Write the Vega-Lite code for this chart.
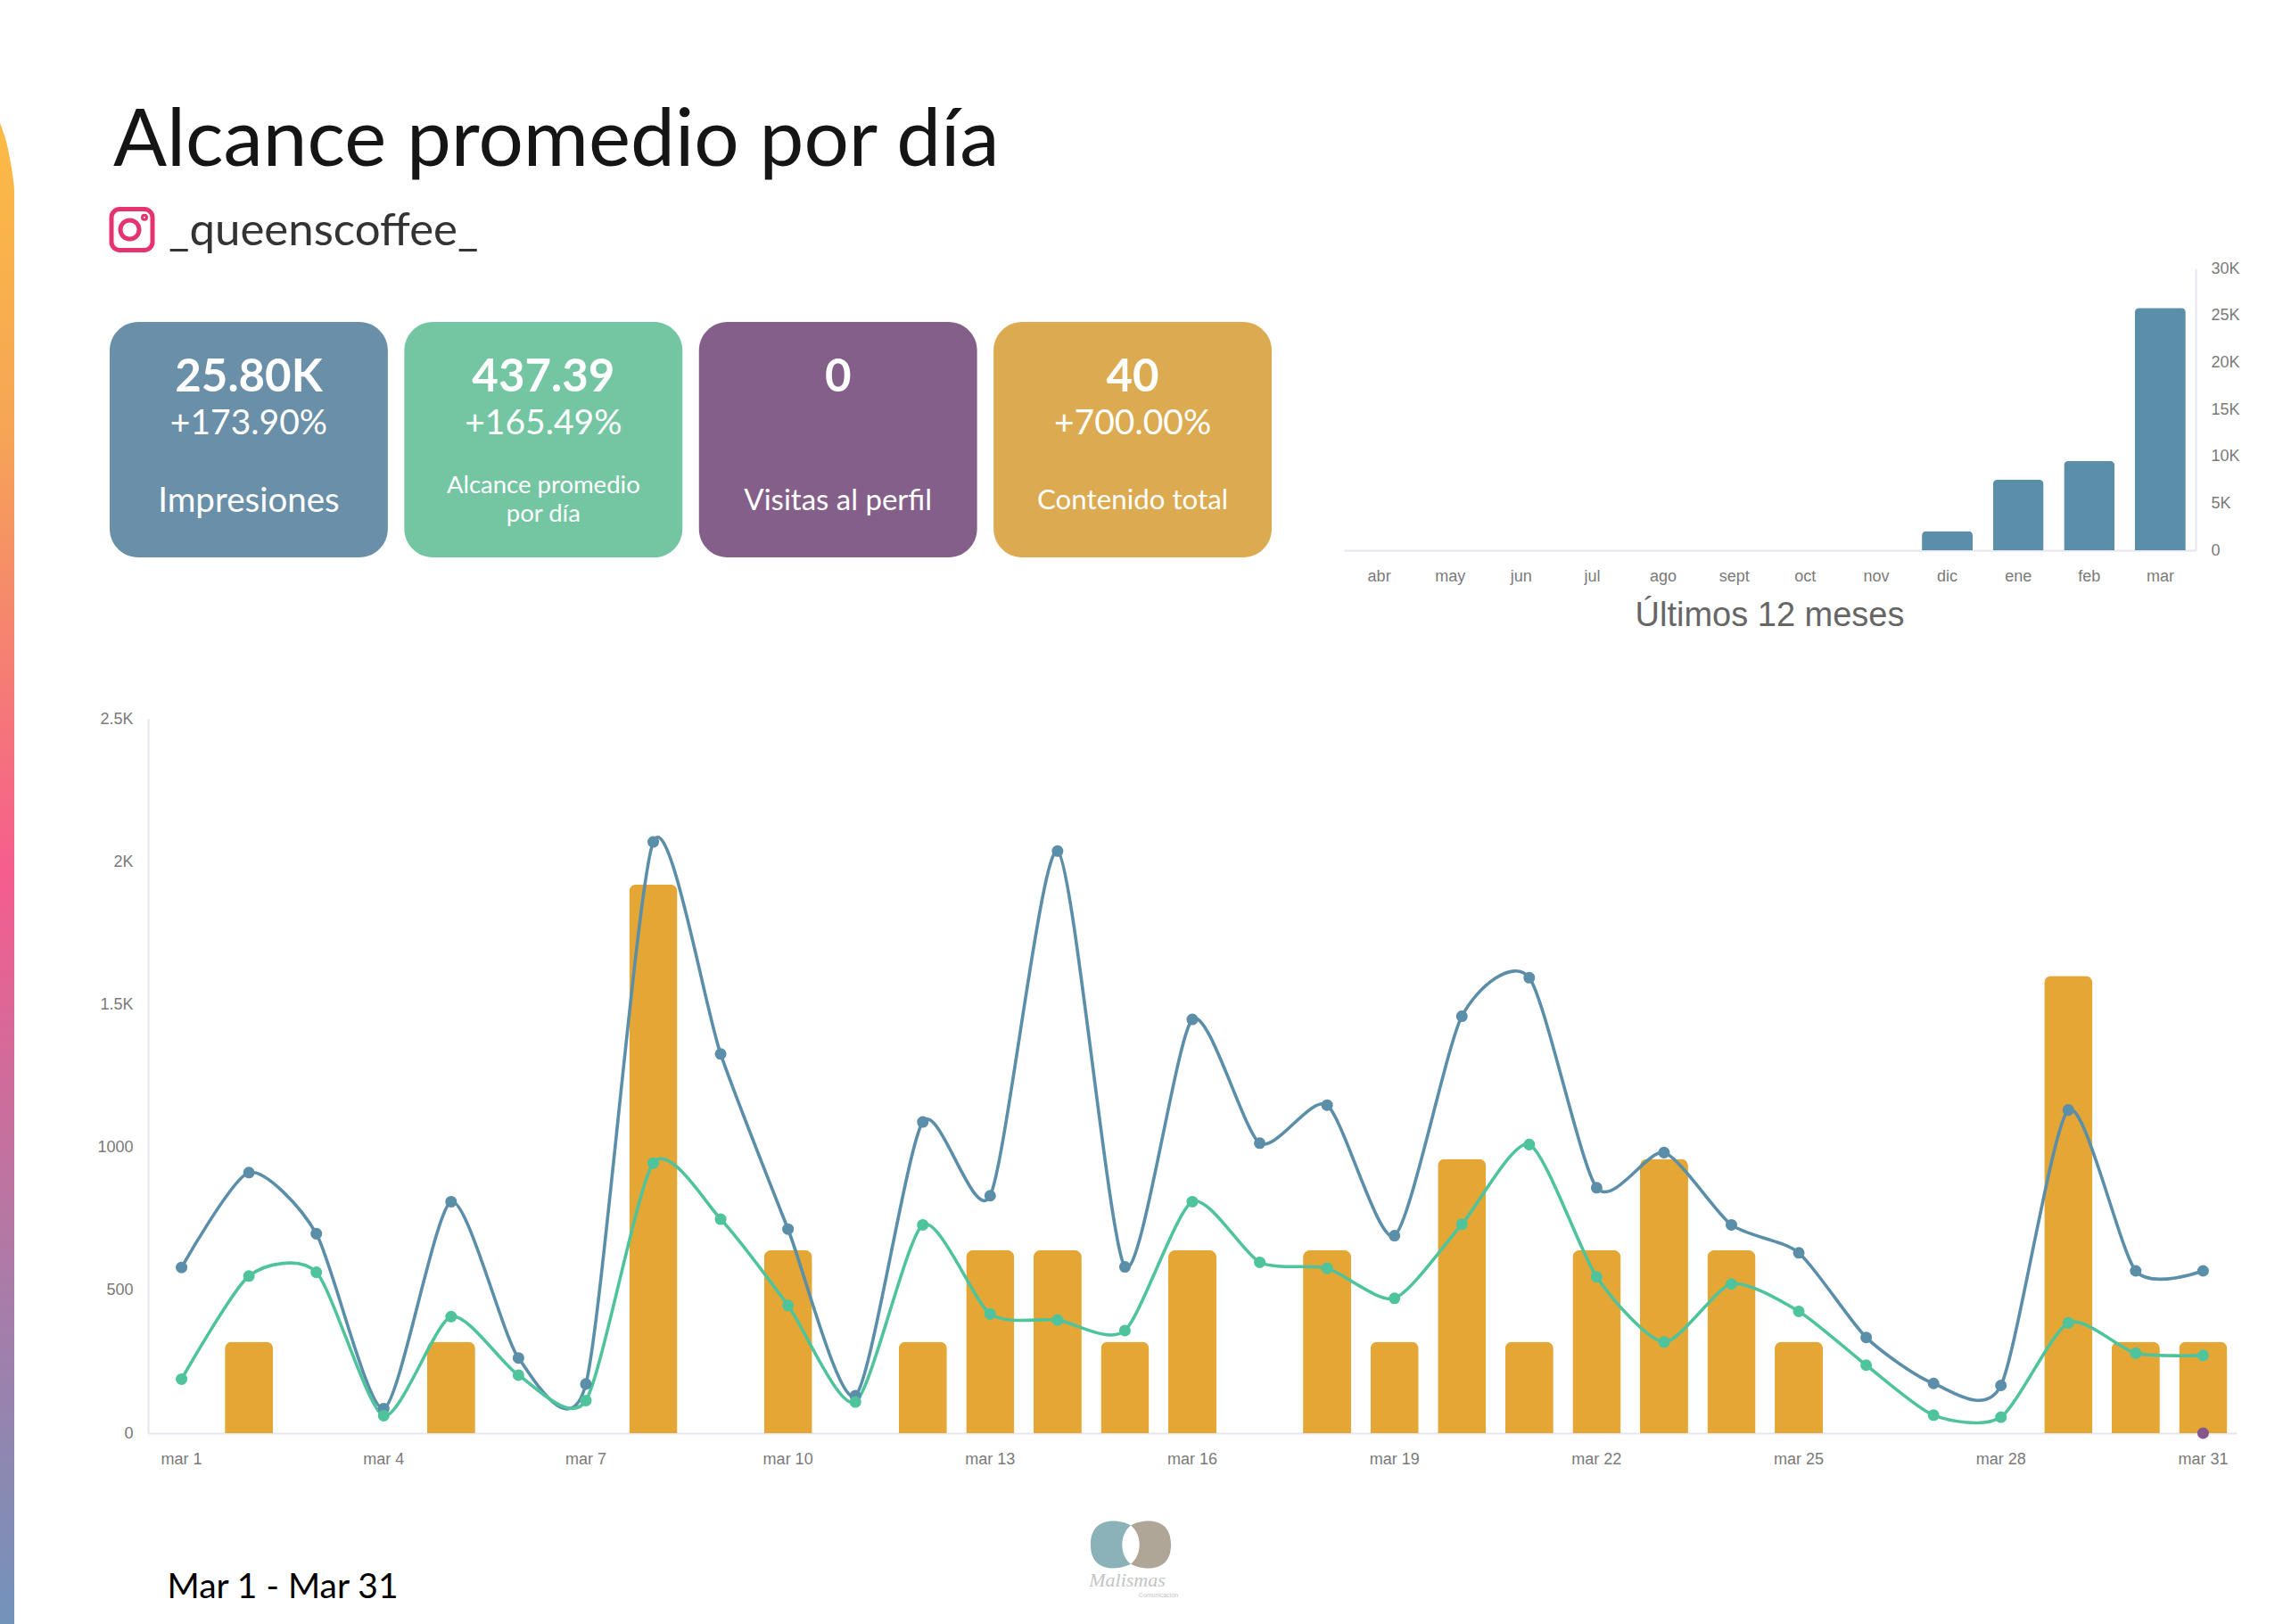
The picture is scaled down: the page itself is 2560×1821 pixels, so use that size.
{
"$schema":"https://vega.github.io/schema/vega-lite/v6.json",
"padding":0,
"background":"white",
"config":{"view":{"stroke":null}},
"bounds":"flush",
"spacing":189,
"vconcat":[
{
 "width":2339,"height":617,
 "title":{"text":"Alcance promedio por día","anchor":"start","frame":"group","orient":"top","offset":-275,"dx":4,"baseline":"alphabetic","font":"Lato","fontSize":89,"fontWeight":"normal","color":"#151515"},
 "resolve":{"scale":{"x":"independent","y":"independent"}},
 "layer":[
  {
   "data":{"values":[{"pos":138,"w":0},{"pos":155,"w":6},{"pos":175,"w":10.5},{"pos":195,"w":14},{"pos":215,"w":16},{"pos":1821,"w":16}]},
   "mark":{"type":"area","orient":"horizontal","interpolate":"monotone","color":{"gradient":"linear","x1":0,"y1":0,"x2":0,"y2":1,"stops":[{"offset":0,"color":"#fbbb45"},{"offset":0.2,"color":"#f6a655"},{"offset":0.5,"color":"#f55d8e"},{"offset":0.78,"color":"#a97ca8"},{"offset":1,"color":"#7393bb"}]}},
   "encoding":{
    "x":{"field":"w","type":"quantitative","scale":{"domain":[0,16],"range":[-123,-107],"nice":false},"axis":null},
    "y":{"field":"pos","type":"quantitative","sort":null,"scale":{"domain":[0,1821],"range":[0,1821],"nice":false},"axis":null}
   }
  },
  {
   "data":{"values":[{"cuenta":"_queenscoffee_"}]},
   "layer":[
    {"mark":{"type":"point","shape":"M-0.55,-0.92 H0.55 A0.37,0.37 0 0 1 0.92,-0.55 V0.55 A0.37,0.37 0 0 1 0.55,0.92 H-0.55 A0.37,0.37 0 0 1 -0.92,0.55 V-0.55 A0.37,0.37 0 0 1 -0.55,-0.92 Z M-0.52,0 A0.42,0.42 0 1 1 0.32,0 A0.42,0.42 0 1 1 -0.52,0 Z M0.5,-0.55 A0.06,0.06 0 1 1 0.62,-0.55 A0.06,0.06 0 1 1 0.5,-0.55 Z","size":2500,"filled":false,"stroke":"#e5336e","strokeWidth":5,"opacity":1,"xOffset":-1144.5,"yOffset":-51}},
    {"mark":{"type":"text","align":"left","baseline":"middle","font":"Lato","fontSize":51,"color":"#333333","dx":-1103.5,"dy":-49},"encoding":{"text":{"field":"cuenta"}}}
   ]
  },
  {
   "data":{"values":[
     {"tarjeta":"Impresiones","valor":"25.80K","cambio":"+173.90%","color":"#6a8fa8"},
     {"tarjeta":"Alcance promedio por día","valor":"437.39","cambio":"+165.49%","color":"#74c6a2"},
     {"tarjeta":"Visitas al perfil","valor":"0","cambio":"","color":"#845f89"},
     {"tarjeta":"Contenido total","valor":"40","cambio":"+700.00%","color":"#dcaa50"}
   ]},
   "encoding":{
    "x":{"field":"tarjeta","type":"nominal","sort":null,"axis":null,"scale":{"range":[0,1303],"paddingInner":0.056,"paddingOuter":0}},
    "y":{"datum":0.5,"type":"quantitative","scale":{"domain":[0,1],"range":[625,361],"nice":false},"axis":null}
   },
   "layer":[
    {"mark":{"type":"bar","cornerRadius":32},"encoding":{"y":{"datum":0,"type":"quantitative"},"y2":{"datum":1},"color":{"field":"color","type":"nominal","scale":null}}},
    {"mark":{"type":"text","color":"white","font":"Lato","fontWeight":"bold","fontSize":51,"baseline":"middle","dy":-69},"encoding":{"text":{"field":"valor"}}},
    {"mark":{"type":"text","color":"white","font":"Lato","fontSize":39,"baseline":"middle","dy":-18},"encoding":{"text":{"field":"cambio"}}},
    {"transform":[{"filter":"datum.tarjeta==='Impresiones'"}],"mark":{"type":"text","color":"white","font":"Lato","fontSize":38.5,"baseline":"middle","dy":69},"encoding":{"text":{"field":"tarjeta"}}},
    {"transform":[{"filter":"datum.tarjeta==='Visitas al perfil'"}],"mark":{"type":"text","color":"white","font":"Lato","fontSize":33,"baseline":"middle","dy":69},"encoding":{"text":{"field":"tarjeta"}}},
    {"transform":[{"filter":"datum.tarjeta==='Contenido total'"}],"mark":{"type":"text","color":"white","font":"Lato","fontSize":31.3,"baseline":"middle","dy":69},"encoding":{"text":{"field":"tarjeta"}}},
    {"transform":[{"filter":"datum.tarjeta==='Alcance promedio por día'"},{"calculate":"['Alcance promedio','por día']","as":"lineas"}],"mark":{"type":"text","color":"white","font":"Lato","fontSize":27.5,"baseline":"middle","lineHeight":32,"dy":52},"encoding":{"text":{"field":"lineas"}}}
   ]
  },
  {
   "data":{"values":[
    {"mes":"abr","impresiones":0},{"mes":"may","impresiones":0},{"mes":"jun","impresiones":0},{"mes":"jul","impresiones":0},{"mes":"ago","impresiones":0},{"mes":"sept","impresiones":0},{"mes":"oct","impresiones":0},{"mes":"nov","impresiones":0},{"mes":"dic","impresiones":2030},{"mes":"ene","impresiones":7490},{"mes":"feb","impresiones":9490},{"mes":"mar","impresiones":25800}
   ]},
   "mark":{"type":"bar","color":"#5b8ea8","cornerRadiusTopLeft":5,"cornerRadiusTopRight":5},
   "encoding":{
    "x":{"field":"mes","type":"nominal","sort":null,"scale":{"range":[1384,2339],"paddingInner":0.285,"paddingOuter":0.14},"axis":{"title":"Últimos 12 meses","titleFont":"Liberation Sans","titleFontSize":38,"titleFontWeight":"normal","titleColor":"#666666","titleX":1861,"titleY":73,"titleBaseline":"middle","labelFont":"Liberation Sans","labelFontSize":18,"labelColor":"#7a7a7a","labelAngle":0,"labelPadding":29,"labelBaseline":"middle","ticks":false,"domainColor":"#e6e6ee","domainWidth":2}},
    "y":{"field":"impresiones","type":"quantitative","scale":{"domain":[0,30000],"range":[617,301],"nice":false},"axis":{"orient":"right","title":null,"values":[0,5000,10000,15000,20000,25000,30000],"labelExpr":"datum.value===0?'0':(datum.value/1000)+'K'","labelFont":"Liberation Sans","labelFontSize":18,"labelColor":"#7a7a7a","labelPadding":17,"ticks":false,"grid":false,"domainColor":"#e6e6ee","domainWidth":2}}
   }
  }
 ]
},
{
 "width":2385,"height":801,
 "data":{"values":[
   {"dia":"mar 1","impresiones":580,"alcance":189,"contenido":0},
   {"dia":"mar 2","impresiones":912,"alcance":550,"contenido":1},
   {"dia":"mar 3","impresiones":698,"alcance":563,"contenido":0},
   {"dia":"mar 4","impresiones":86,"alcance":61,"contenido":0},
   {"dia":"mar 5","impresiones":810,"alcance":408,"contenido":1},
   {"dia":"mar 6","impresiones":263,"alcance":203,"contenido":0},
   {"dia":"mar 7","impresiones":172,"alcance":114,"contenido":0},
   {"dia":"mar 8","impresiones":2069,"alcance":945,"contenido":6},
   {"dia":"mar 9","impresiones":1327,"alcance":749,"contenido":0},
   {"dia":"mar 10","impresiones":714,"alcance":447,"contenido":2},
   {"dia":"mar 11","impresiones":131,"alcance":109,"contenido":0},
   {"dia":"mar 12","impresiones":1089,"alcance":729,"contenido":1},
   {"dia":"mar 13","impresiones":831,"alcance":417,"contenido":2},
   {"dia":"mar 14","impresiones":2037,"alcance":396,"contenido":2},
   {"dia":"mar 15","impresiones":582,"alcance":359,"contenido":1},
   {"dia":"mar 16","impresiones":1448,"alcance":810,"contenido":2},
   {"dia":"mar 17","impresiones":1015,"alcance":598,"contenido":0},
   {"dia":"mar 18","impresiones":1148,"alcance":577,"contenido":2},
   {"dia":"mar 19","impresiones":691,"alcance":472,"contenido":1},
   {"dia":"mar 20","impresiones":1459,"alcance":731,"contenido":3},
   {"dia":"mar 21","impresiones":1594,"alcance":1010,"contenido":1},
   {"dia":"mar 22","impresiones":859,"alcance":547,"contenido":2},
   {"dia":"mar 23","impresiones":982,"alcance":319,"contenido":3},
   {"dia":"mar 24","impresiones":729,"alcance":522,"contenido":2},
   {"dia":"mar 25","impresiones":631,"alcance":426,"contenido":1},
   {"dia":"mar 26","impresiones":335,"alcance":238,"contenido":0},
   {"dia":"mar 27","impresiones":174,"alcance":63,"contenido":0},
   {"dia":"mar 28","impresiones":167,"alcance":56,"contenido":0},
   {"dia":"mar 29","impresiones":1131,"alcance":386,"contenido":5},
   {"dia":"mar 30","impresiones":568,"alcance":280,"contenido":1},
   {"dia":"mar 31","impresiones":568,"alcance":272,"contenido":1,"visitas":0}
 ]},
 "resolve":{"scale":{"y":"independent"}},
 "layer":[
   {"mark":{"type":"bar","color":"#e4a635","cornerRadiusTopLeft":8,"cornerRadiusTopRight":8},
    "transform":[{"filter":"datum.contenido>0"}],
    "encoding":{
     "x":{"field":"dia","type":"nominal","sort":null,"scale":{"domain":["mar 1","mar 2","mar 3","mar 4","mar 5","mar 6","mar 7","mar 8","mar 9","mar 10","mar 11","mar 12","mar 13","mar 14","mar 15","mar 16","mar 17","mar 18","mar 19","mar 20","mar 21","mar 22","mar 23","mar 24","mar 25","mar 26","mar 27","mar 28","mar 29","mar 30","mar 31"],"range":[43,2385],"paddingInner":0.285,"paddingOuter":0.14},
      "axis":{"values":["mar 1","mar 4","mar 7","mar 10","mar 13","mar 16","mar 19","mar 22","mar 25","mar 28","mar 31"],"title":"Mar 1  - Mar 31","titleFont":"Lato","titleFontSize":39,"titleFontWeight":"normal","titleColor":"#000000","titleAlign":"left","titleX":64,"titleY":172,"titleBaseline":"middle","labelFont":"Liberation Sans","labelFontSize":18,"labelColor":"#7a7a7a","labelAngle":0,"labelPadding":29,"labelBaseline":"middle","ticks":false,"domainColor":"#e6e6ee","domainWidth":2}},
     "y":{"field":"contenido","type":"quantitative","scale":{"domain":[0,7.8125],"nice":false},"axis":null}
    }},
   {"mark":{"type":"line","color":"#5b8ea8","strokeWidth":3.6,"interpolate":"cardinal","tension":0.3},
    "encoding":{
     "x":{"field":"dia","type":"nominal","sort":null},
     "y":{"field":"impresiones","type":"quantitative","scale":{"domain":[0,2500],"nice":false},
      "axis":{"offset":-43,"title":null,"values":[0,500,1000,1500,2000,2500],"labelExpr":"datum.value===1500?'1.5K':datum.value===2000?'2K':datum.value===2500?'2.5K':datum.label","format":"d","labelFont":"Liberation Sans","labelFontSize":18,"labelColor":"#7a7a7a","labelPadding":17,"ticks":false,"grid":false,"domainColor":"#e6e6ee","domainWidth":2}}
    }},
   {"mark":{"type":"line","color":"#4fc49c","strokeWidth":3.6,"interpolate":"cardinal","tension":0.3},
    "encoding":{
     "x":{"field":"dia","type":"nominal","sort":null},
     "y":{"field":"alcance","type":"quantitative","scale":{"domain":[0,2500],"nice":false},"axis":null}
    }},
   {"mark":{"type":"point","filled":true,"opacity":1,"color":"#5b8ea8","size":170},
    "encoding":{
     "x":{"field":"dia","type":"nominal","sort":null},
     "y":{"field":"impresiones","type":"quantitative","scale":{"domain":[0,2500],"nice":false},"axis":null}
    }},
   {"mark":{"type":"point","filled":true,"opacity":1,"color":"#4fc49c","size":170},
    "encoding":{
     "x":{"field":"dia","type":"nominal","sort":null},
     "y":{"field":"alcance","type":"quantitative","scale":{"domain":[0,2500],"nice":false},"axis":null}
    }},
   {"mark":{"type":"point","filled":true,"opacity":1,"color":"#84588d","size":170},
    "transform":[{"filter":"isValid(datum.visitas)"}],
    "encoding":{
     "x":{"field":"dia","type":"nominal","sort":null},
     "y":{"field":"visitas","type":"quantitative","scale":{"domain":[0,2500],"nice":false},"axis":null}
    }},
   {"data":{"values":[{"marca":"Malismas","sub":"Comunicación"}]},
    "layer":[
     {"mark":{"type":"point","filled":true,"opacity":1,"color":"#8bb1b9","size":8464,"xOffset":-47.5,"yOffset":525.5,"shape":"M0,-0.47 C-0.2,-0.6 -0.98,-0.75 -0.98,0 C-0.98,0.75 -0.2,0.6 0,0.47 C-0.28,0.25 -0.28,-0.25 0,-0.47 Z"}},
     {"mark":{"type":"point","filled":true,"opacity":1,"color":"#b0a698","size":8464,"xOffset":-47.5,"yOffset":525.5,"shape":"M0,-0.47 C0.2,-0.6 0.98,-0.75 0.98,0 C0.98,0.75 0.2,0.6 0,0.47 C0.28,0.25 0.28,-0.25 0,-0.47 Z"}},
     {"mark":{"type":"text","font":"Liberation Serif","fontStyle":"italic","fontSize":22,"color":"#c4c4c4","baseline":"middle","dx":-51.5,"dy":565},"encoding":{"text":{"field":"marca"}}},
     {"mark":{"type":"text","font":"Liberation Sans","fontSize":7,"color":"#c4c4c4","baseline":"middle","dx":-16.5,"dy":582},"encoding":{"text":{"field":"sub"}}}
    ]}
 ]
}
]
}
